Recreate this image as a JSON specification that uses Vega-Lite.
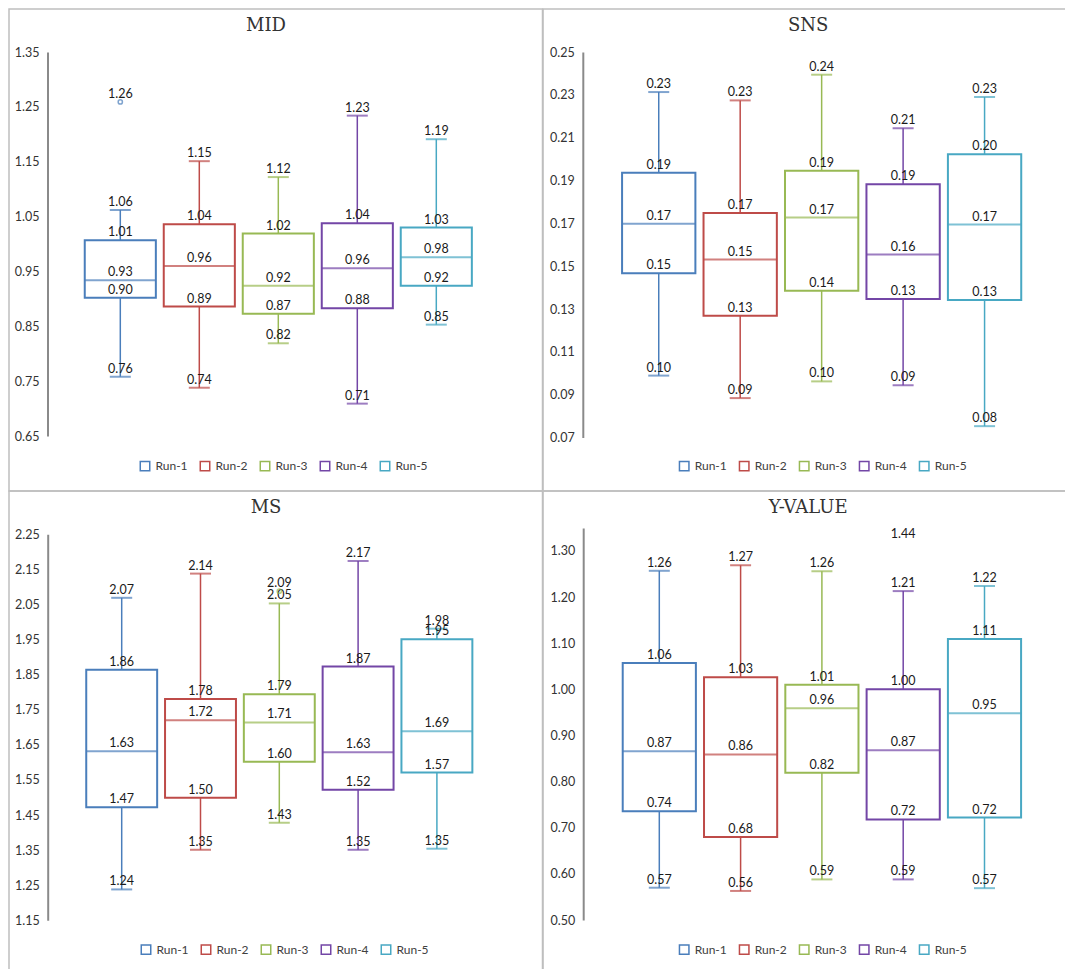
{
  "$schema": "https://vega.github.io/schema/vega-lite/v6.json",
  "background": "white",
  "padding": {"left": 8, "top": 8, "right": 0, "bottom": 0},
  "datasets": {
    "mid": [
      {"run": "Run-1", "min": 0.758, "q1": 0.902, "median": 0.934, "q3": 1.007, "max": 1.062},
      {"run": "Run-2", "min": 0.738, "q1": 0.886, "median": 0.960, "q3": 1.036, "max": 1.151},
      {"run": "Run-3", "min": 0.819, "q1": 0.873, "median": 0.924, "q3": 1.019, "max": 1.122},
      {"run": "Run-4", "min": 0.709, "q1": 0.883, "median": 0.956, "q3": 1.038, "max": 1.234},
      {"run": "Run-5", "min": 0.853, "q1": 0.924, "median": 0.976, "q3": 1.030, "max": 1.191}
    ],
    "sns": [
      {"run": "Run-1", "min": 0.0989, "q1": 0.1467, "median": 0.1698, "q3": 0.1936, "max": 0.2313},
      {"run": "Run-2", "min": 0.0884, "q1": 0.1269, "median": 0.1531, "q3": 0.1748, "max": 0.2274},
      {"run": "Run-3", "min": 0.0962, "q1": 0.1385, "median": 0.1727, "q3": 0.1945, "max": 0.2394},
      {"run": "Run-4", "min": 0.0944, "q1": 0.1347, "median": 0.1554, "q3": 0.1883, "max": 0.2144},
      {"run": "Run-5", "min": 0.0753, "q1": 0.1342, "median": 0.1694, "q3": 0.2022, "max": 0.2290}
    ],
    "ms": [
      {"run": "Run-1", "min": 1.238, "q1": 1.472, "median": 1.632, "q3": 1.864, "max": 2.069},
      {"run": "Run-2", "min": 1.351, "q1": 1.499, "median": 1.720, "q3": 1.781, "max": 2.138},
      {"run": "Run-3", "min": 1.428, "q1": 1.602, "median": 1.714, "q3": 1.794, "max": 2.053},
      {"run": "Run-4", "min": 1.351, "q1": 1.522, "median": 1.629, "q3": 1.873, "max": 2.174},
      {"run": "Run-5", "min": 1.354, "q1": 1.571, "median": 1.689, "q3": 1.951, "max": 1.981}
    ],
    "yv": [
      {"run": "Run-1", "min": 0.570, "q1": 0.736, "median": 0.866, "q3": 1.057, "max": 1.257},
      {"run": "Run-2", "min": 0.563, "q1": 0.680, "median": 0.859, "q3": 1.026, "max": 1.269},
      {"run": "Run-3", "min": 0.588, "q1": 0.819, "median": 0.959, "q3": 1.010, "max": 1.256},
      {"run": "Run-4", "min": 0.588, "q1": 0.718, "median": 0.868, "q3": 1.000, "max": 1.213},
      {"run": "Run-5", "min": 0.569, "q1": 0.722, "median": 0.948, "q3": 1.109, "max": 1.224}
    ],
    "outliers": [
      {"panel": "MID", "run": "Run-1", "value": 1.259},
      {"panel": "MS", "run": "Run-3", "value": 2.088},
      {"panel": "Y-VALUE", "run": "Run-4", "value": 1.44}
    ]
  },
  "columns": 2,
  "spacing": 0,
  "bounds": "flush",
  "resolve": {
    "scale": {"x": "independent", "y": "independent", "color": "shared", "stroke": "shared"},
    "legend": {"stroke": "independent"}
  },
  "concat": [
    {
      "width": 533.5,
      "height": 482,
      "title": {"text": "MID", "dx": -9.75},
      "data": {"name": "mid"},
      "encoding": {
        "x": {"field": "run", "type": "nominal", "axis": null, "scale": {"range": [71.8, 466.8], "paddingInner": 0.1, "paddingOuter": 0.05}},
        "color": {
          "field": "run", "type": "nominal", "legend": null,
          "scale": {"domain": ["Run-1", "Run-2", "Run-3", "Run-4", "Run-5"], "range": ["#4a7ebb", "#be4b48", "#98b954", "#7346a6", "#48a8c3"]}
        }
      },
      "layer": [
        {
          "mark": {"type": "bar", "filled": false, "strokeWidth": 2},
          "encoding": {
            "y": {"field": "q1", "type": "quantitative", "title": null,
              "scale": {"domain": [0.65, 1.35], "range": [427, 43], "nice": false, "zero": false},
              "axis": {"offset": -38.5, "values": [0.65, 0.75, 0.85, 0.95, 1.05, 1.15, 1.25, 1.35], "format": ".2f"}},
            "y2": {"field": "q3"},
            "stroke": {
              "field": "run", "type": "nominal",
              "scale": {"domain": ["Run-1", "Run-2", "Run-3", "Run-4", "Run-5"], "range": ["#4a7ebb", "#be4b48", "#98b954", "#7346a6", "#48a8c3"]},
              "legend": {"title": null, "orient": "none", "direction": "horizontal", "legendX": 130, "legendY": 451}
            }
          }
        },
        {"mark": {"type": "rule", "strokeWidth": 1.5}, "encoding": {"y": {"field": "min", "type": "quantitative", "title": null}, "y2": {"field": "q1"}}},
        {"mark": {"type": "rule", "strokeWidth": 1.5}, "encoding": {"y": {"field": "q3", "type": "quantitative", "title": null}, "y2": {"field": "max"}}},
        {"mark": {"type": "tick", "orient": "horizontal", "size": 71.1, "thickness": 2}, "encoding": {"y": {"field": "median", "type": "quantitative", "title": null}}},
        {"mark": {"type": "tick", "orient": "horizontal", "size": 21, "thickness": 2}, "encoding": {"y": {"field": "min", "type": "quantitative", "title": null}}},
        {"mark": {"type": "tick", "orient": "horizontal", "size": 21, "thickness": 2}, "encoding": {"y": {"field": "max", "type": "quantitative", "title": null}}},
        {
          "transform": [{"fold": ["min", "q1", "median", "q3", "max"], "as": ["stat", "value"]}],
          "mark": {"type": "text", "baseline": "bottom", "dy": -1},
          "encoding": {"y": {"field": "value", "type": "quantitative", "title": null}, "text": {"field": "value", "type": "quantitative", "format": ".2f"}, "color": {"value": "#1a1a1a"}}
        },
        {
          "data": {"name": "outliers"},
          "transform": [{"filter": "datum.panel == 'MID'"}],
          "layer": [
            {"mark": {"type": "point", "filled": false, "size": 18, "strokeWidth": 1.5}, "encoding": {"y": {"field": "value", "type": "quantitative", "title": null}}},
            {"mark": {"type": "text", "baseline": "bottom", "dy": -1}, "encoding": {"y": {"field": "value", "type": "quantitative", "title": null}, "text": {"field": "value", "type": "quantitative", "format": ".2f"}, "color": {"value": "#1a1a1a"}}}
          ]
        }
      ]
    },
    {
      "width": 545,
      "height": 482,
      "title": {"text": "SNS", "dx": -7.3},
      "data": {"name": "sns"},
      "encoding": {
        "x": {"field": "run", "type": "nominal", "axis": null, "scale": {"range": [75.0, 482.3], "paddingInner": 0.1, "paddingOuter": 0.05}},
        "color": {
          "field": "run", "type": "nominal", "legend": null,
          "scale": {"domain": ["Run-1", "Run-2", "Run-3", "Run-4", "Run-5"], "range": ["#4a7ebb", "#be4b48", "#98b954", "#7346a6", "#48a8c3"]}
        }
      },
      "layer": [
        {
          "mark": {"type": "bar", "filled": false, "strokeWidth": 2},
          "encoding": {
            "y": {"field": "q1", "type": "quantitative", "title": null,
              "scale": {"domain": [0.07, 0.25], "range": [428.5, 43], "nice": false, "zero": false},
              "axis": {"offset": -39.8, "values": [0.07, 0.09, 0.11, 0.13, 0.15, 0.17, 0.19, 0.21, 0.23, 0.25], "format": ".2f"}},
            "y2": {"field": "q3"},
            "stroke": {
              "field": "run", "type": "nominal",
              "scale": {"domain": ["Run-1", "Run-2", "Run-3", "Run-4", "Run-5"], "range": ["#4a7ebb", "#be4b48", "#98b954", "#7346a6", "#48a8c3"]},
              "legend": {"title": null, "orient": "none", "direction": "horizontal", "legendX": 135.2, "legendY": 451}
            }
          }
        },
        {"mark": {"type": "rule", "strokeWidth": 1.5}, "encoding": {"y": {"field": "min", "type": "quantitative", "title": null}, "y2": {"field": "q1"}}},
        {"mark": {"type": "rule", "strokeWidth": 1.5}, "encoding": {"y": {"field": "q3", "type": "quantitative", "title": null}, "y2": {"field": "max"}}},
        {"mark": {"type": "tick", "orient": "horizontal", "size": 73.3, "thickness": 2}, "encoding": {"y": {"field": "median", "type": "quantitative", "title": null}}},
        {"mark": {"type": "tick", "orient": "horizontal", "size": 21, "thickness": 2}, "encoding": {"y": {"field": "min", "type": "quantitative", "title": null}}},
        {"mark": {"type": "tick", "orient": "horizontal", "size": 21, "thickness": 2}, "encoding": {"y": {"field": "max", "type": "quantitative", "title": null}}},
        {
          "transform": [{"fold": ["min", "q1", "median", "q3", "max"], "as": ["stat", "value"]}],
          "mark": {"type": "text", "baseline": "bottom", "dy": -1},
          "encoding": {"y": {"field": "value", "type": "quantitative", "title": null}, "text": {"field": "value", "type": "quantitative", "format": ".2f"}, "color": {"value": "#1a1a1a"}}
        }
      ]
    },
    {
      "width": 533.5,
      "height": 482,
      "title": {"text": "MS", "dx": -9.75},
      "data": {"name": "ms"},
      "encoding": {
        "x": {"field": "run", "type": "nominal", "axis": null, "scale": {"range": [73.3, 467.3], "paddingInner": 0.1, "paddingOuter": 0.05}},
        "color": {
          "field": "run", "type": "nominal", "legend": null,
          "scale": {"domain": ["Run-1", "Run-2", "Run-3", "Run-4", "Run-5"], "range": ["#4a7ebb", "#be4b48", "#98b954", "#7346a6", "#48a8c3"]}
        }
      },
      "layer": [
        {
          "mark": {"type": "bar", "filled": false, "strokeWidth": 2},
          "encoding": {
            "y": {"field": "q1", "type": "quantitative", "title": null,
              "scale": {"domain": [1.15, 2.25], "range": [429.3, 43.3], "nice": false, "zero": false},
              "axis": {"offset": -38.7, "values": [1.15, 1.25, 1.35, 1.45, 1.55, 1.65, 1.75, 1.85, 1.95, 2.05, 2.15, 2.25], "format": ".2f"}},
            "y2": {"field": "q3"},
            "stroke": {
              "field": "run", "type": "nominal",
              "scale": {"domain": ["Run-1", "Run-2", "Run-3", "Run-4", "Run-5"], "range": ["#4a7ebb", "#be4b48", "#98b954", "#7346a6", "#48a8c3"]},
              "legend": {"title": null, "orient": "none", "direction": "horizontal", "legendX": 131, "legendY": 452.5}
            }
          }
        },
        {"mark": {"type": "rule", "strokeWidth": 1.5}, "encoding": {"y": {"field": "min", "type": "quantitative", "title": null}, "y2": {"field": "q1"}}},
        {"mark": {"type": "rule", "strokeWidth": 1.5}, "encoding": {"y": {"field": "q3", "type": "quantitative", "title": null}, "y2": {"field": "max"}}},
        {"mark": {"type": "tick", "orient": "horizontal", "size": 70.9, "thickness": 2}, "encoding": {"y": {"field": "median", "type": "quantitative", "title": null}}},
        {"mark": {"type": "tick", "orient": "horizontal", "size": 21, "thickness": 2}, "encoding": {"y": {"field": "min", "type": "quantitative", "title": null}}},
        {"mark": {"type": "tick", "orient": "horizontal", "size": 21, "thickness": 2}, "encoding": {"y": {"field": "max", "type": "quantitative", "title": null}}},
        {
          "transform": [{"fold": ["min", "q1", "median", "q3", "max"], "as": ["stat", "value"]}],
          "mark": {"type": "text", "baseline": "bottom", "dy": -1},
          "encoding": {"y": {"field": "value", "type": "quantitative", "title": null}, "text": {"field": "value", "type": "quantitative", "format": ".2f"}, "color": {"value": "#1a1a1a"}}
        },
        {
          "data": {"name": "outliers"},
          "transform": [{"filter": "datum.panel == 'MS'"}],
          "layer": [
            {"mark": {"type": "point", "filled": false, "size": 18, "strokeWidth": 1.5}, "encoding": {"y": {"field": "value", "type": "quantitative", "title": null}}},
            {"mark": {"type": "text", "baseline": "bottom", "dy": -1}, "encoding": {"y": {"field": "value", "type": "quantitative", "title": null}, "text": {"field": "value", "type": "quantitative", "format": ".2f"}, "color": {"value": "#1a1a1a"}}}
          ]
        }
      ]
    },
    {
      "width": 545,
      "height": 482,
      "title": {"text": "Y-VALUE", "dx": -7.3},
      "data": {"name": "yv"},
      "encoding": {
        "x": {"field": "run", "type": "nominal", "axis": null, "scale": {"range": [75.65, 482.15], "paddingInner": 0.1, "paddingOuter": 0.05}},
        "color": {
          "field": "run", "type": "nominal", "legend": null,
          "scale": {"domain": ["Run-1", "Run-2", "Run-3", "Run-4", "Run-5"], "range": ["#4a7ebb", "#be4b48", "#98b954", "#7346a6", "#48a8c3"]}
        }
      },
      "layer": [
        {
          "mark": {"type": "bar", "filled": false, "strokeWidth": 2},
          "encoding": {
            "y": {"field": "q1", "type": "quantitative", "title": null,
              "scale": {"domain": [0.5, 1.35], "range": [429, 36.9], "nice": false, "zero": false, "clamp": true},
              "axis": {"offset": -40.2, "values": [0.5, 0.6, 0.7, 0.8, 0.9, 1.0, 1.1, 1.2, 1.3], "format": ".2f"}},
            "y2": {"field": "q3"},
            "stroke": {
              "field": "run", "type": "nominal",
              "scale": {"domain": ["Run-1", "Run-2", "Run-3", "Run-4", "Run-5"], "range": ["#4a7ebb", "#be4b48", "#98b954", "#7346a6", "#48a8c3"]},
              "legend": {"title": null, "orient": "none", "direction": "horizontal", "legendX": 135.2, "legendY": 452.5}
            }
          }
        },
        {"mark": {"type": "rule", "strokeWidth": 1.5}, "encoding": {"y": {"field": "min", "type": "quantitative", "title": null}, "y2": {"field": "q1"}}},
        {"mark": {"type": "rule", "strokeWidth": 1.5}, "encoding": {"y": {"field": "q3", "type": "quantitative", "title": null}, "y2": {"field": "max"}}},
        {"mark": {"type": "tick", "orient": "horizontal", "size": 73.2, "thickness": 2}, "encoding": {"y": {"field": "median", "type": "quantitative", "title": null}}},
        {"mark": {"type": "tick", "orient": "horizontal", "size": 21, "thickness": 2}, "encoding": {"y": {"field": "min", "type": "quantitative", "title": null}}},
        {"mark": {"type": "tick", "orient": "horizontal", "size": 21, "thickness": 2}, "encoding": {"y": {"field": "max", "type": "quantitative", "title": null}}},
        {
          "transform": [{"fold": ["min", "q1", "median", "q3", "max"], "as": ["stat", "value"]}],
          "mark": {"type": "text", "baseline": "bottom", "dy": -1},
          "encoding": {"y": {"field": "value", "type": "quantitative", "title": null}, "text": {"field": "value", "type": "quantitative", "format": ".2f"}, "color": {"value": "#1a1a1a"}}
        },
        {
          "data": {"name": "outliers"},
          "transform": [{"filter": "datum.panel == 'Y-VALUE'"}],
          "mark": {"type": "text", "baseline": "middle", "dy": 6},
          "encoding": {"y": {"field": "value", "type": "quantitative", "title": null}, "text": {"field": "value", "type": "quantitative", "format": ".2f"}, "color": {"value": "#1a1a1a"}}
        }
      ]
    }
  ],
  "config": {
    "view": {"stroke": "#bfbfbf", "strokeWidth": 1.5},
    "font": "Lato",
    "axis": {
      "ticks": false, "grid": false, "domainColor": "#8a8a8a", "domainWidth": 2,
      "labelFont": "Lato", "labelFontSize": 12.5, "labelColor": "#333333", "labelPadding": 8.5,
      "labelFlush": false, "labelOverlap": false, "labelBound": false
    },
    "legend": {
      "labelFont": "Lato", "labelFontSize": 12, "labelColor": "#404040",
      "symbolType": "square", "symbolSize": 90, "symbolStrokeWidth": 1.5, "symbolFillColor": "white",
      "columnPadding": 9, "labelOffset": 4.5
    },
    "text": {"font": "Lato", "fontSize": 12.5},
    "title": {
      "font": "DejaVu Serif", "fontSize": 18, "fontWeight": "normal", "color": "#333333",
      "anchor": "middle", "frame": "group", "offset": -25.5, "baseline": "alphabetic"
    }
  }
}
